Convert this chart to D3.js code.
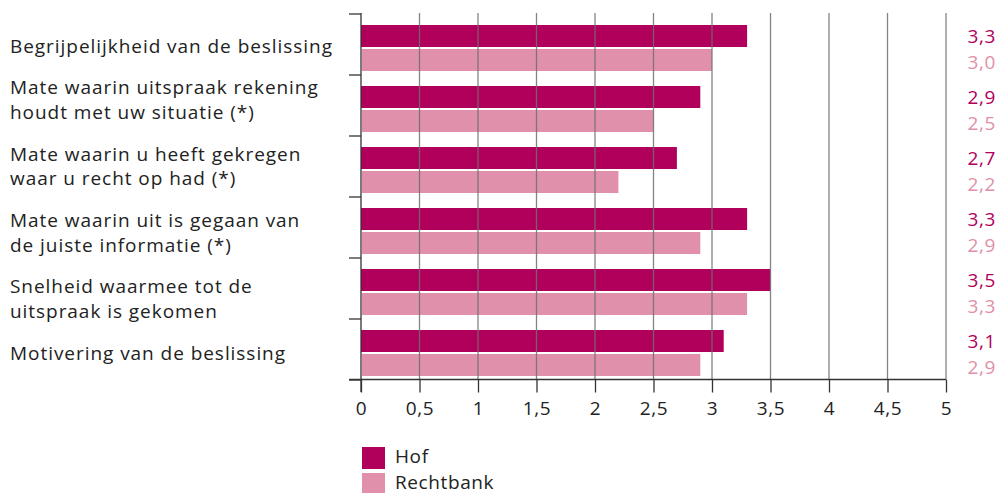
<!DOCTYPE html>
<html>
<head>
<meta charset="utf-8">
<script src="https://cdn.jsdelivr.net/npm/d3@7"></script>
<style>
  body { margin: 0; background: #fff; }
  text { font-family: "Open Sans", Lato, sans-serif; letter-spacing: 0.6px; }
  .cat-label { letter-spacing: 0.95px; }
</style>
</head>
<body>
<script>
// Data
var categories = [
  ['Begrijpelijkheid van de beslissing'],
  ['Mate waarin uitspraak rekening', 'houdt met uw situatie (*)'],
  ['Mate waarin u heeft gekregen', 'waar u recht op had (*)'],
  ['Mate waarin uit is gegaan van', 'de juiste informatie (*)'],
  ['Snelheid waarmee tot de', 'uitspraak is gekomen'],
  ['Motivering van de beslissing']
]
var hof = [3.3, 2.9, 2.7, 3.3, 3.5, 3.1]
var rechtbank = [3.0, 2.5, 2.2, 2.9, 3.3, 2.9]
var seriesNames = ['Hof', 'Rechtbank']
var ticks = [0, 0.5, 1, 1.5, 2, 2.5, 3, 3.5, 4, 4.5, 5]

var colors = ['#b1005b', '#e090aa']
var fmt = d => d.toFixed(1).replace('.', ',')
var tickFmt = d => String(d).replace('.', ',')

var width = 998
var height = 493
var fontSize = '19px'

var svg = d3.select('body').append('svg')
    .attr('width', width)
    .attr('height', height)

var x = d3.scaleLinear().domain([0, 5]).range([361, 946])
var y = d3.scaleBand().domain(d3.range(categories.length)).range([14, 380])

var barH = 22

// bars
var groups = svg.selectAll('g.cat')
  .data(categories).enter()
  .append('g')
  .attr('class', 'cat')

groups.append('rect')
  .attr('x', x(0))
  .attr('y', (d, i) => y(i) + 11)
  .attr('width', (d, i) => x(hof[i]) - x(0))
  .attr('height', barH)
  .attr('fill', colors[0])

groups.append('rect')
  .attr('x', x(0) + 1)
  .attr('y', (d, i) => y(i) + 13 + barH)
  .attr('width', (d, i) => x(rechtbank[i]) - x(0) - 1)
  .attr('height', barH)
  .attr('fill', colors[1])

// gridlines over bars
svg.append('g')
  .selectAll('line')
  .data(ticks.slice(1)).enter()
  .append('line')
  .attr('x1', d => x(d))
  .attr('x2', d => x(d))
  .attr('y1', 13)
  .attr('y2', 379)
  .attr('stroke', '#6e6e6e')
  .attr('stroke-opacity', 0.85)
  .attr('stroke-width', 1.3)

// y axis with ticks on the left
var yAxis = svg.append('g')
yAxis.append('line')
  .attr('x1', x(0)).attr('x2', x(0))
  .attr('y1', 13).attr('y2', 392)
  .attr('stroke', '#333').attr('stroke-width', 1.3)
yAxis.selectAll('line.tick')
  .data(d3.range(categories.length + 1)).enter()
  .append('line')
  .attr('class', 'tick')
  .attr('x1', x(0) - 12).attr('x2', x(0))
  .attr('y1', d => 14 + d * y.step())
  .attr('y2', d => 14 + d * y.step())
  .attr('stroke', '#333').attr('stroke-width', 1.3)

// x axis
var xAxis = svg.append('g')
  .attr('transform', 'translate(0,379.5)')
  .call(d3.axisBottom(x).tickValues(ticks).tickFormat(tickFmt).tickSize(13).tickPadding(9))
xAxis.select('.domain').remove()
xAxis.append('line')
  .attr('x1', x(0) - 12).attr('x2', x(5))
  .attr('stroke', '#333').attr('stroke-width', 1.3)
xAxis.selectAll('.tick line').attr('stroke', '#333').attr('stroke-width', 1.3)
xAxis.selectAll('.tick text')
  .attr('fill', '#222')
  .style('font-size', fontSize)
  .style('font-family', '"Open Sans", Lato, sans-serif')

// category labels: a text block with line height and paragraph spacing
var lineH = 24.8
var paraGap = 41.6
var firstBase = 52.5
var bases = []
var cur = firstBase
categories.forEach((c, i) => {
  bases.push(cur)
  cur += (c.length - 1) * lineH + paraGap
})

groups.append('text')
  .attr('class', 'cat-label')
  .attr('x', 10)
  .attr('y', (d, i) => bases[i])
  .attr('fill', '#222')
  .style('font-size', fontSize)
  .selectAll('tspan')
  .data(d => d).enter()
  .append('tspan')
  .attr('x', 10)
  .attr('dy', (d, i) => i === 0 ? 0 : lineH)
  .text(d => d)

// value labels
groups.append('text')
  .attr('x', 996)
  .attr('y', (d, i) => y(i) + 11 + barH / 2)
  .attr('dy', '0.35em')
  .attr('text-anchor', 'end')
  .attr('fill', colors[0])
  .style('font-size', fontSize)
  .text((d, i) => fmt(hof[i]))

groups.append('text')
  .attr('x', 996)
  .attr('y', (d, i) => y(i) + 13 + barH * 1.5 + 2)
  .attr('dy', '0.35em')
  .attr('text-anchor', 'end')
  .attr('fill', colors[1])
  .style('font-size', fontSize)
  .text((d, i) => fmt(rechtbank[i]))

// legend
var legend = svg.selectAll('g.legend')
  .data(seriesNames).enter()
  .append('g')
  .attr('class', 'legend')
  .attr('transform', (d, i) => 'translate(362,' + (447 + i * 26) + ')')

legend.append('rect')
  .attr('width', 23).attr('height', 22)
  .attr('fill', (d, i) => colors[i])

legend.append('text')
  .attr('x', 33).attr('y', 9)
  .attr('dy', '0.35em')
  .attr('fill', '#222')
  .style('font-size', fontSize)
  .text(d => d)
</script>
</body>
</html>
